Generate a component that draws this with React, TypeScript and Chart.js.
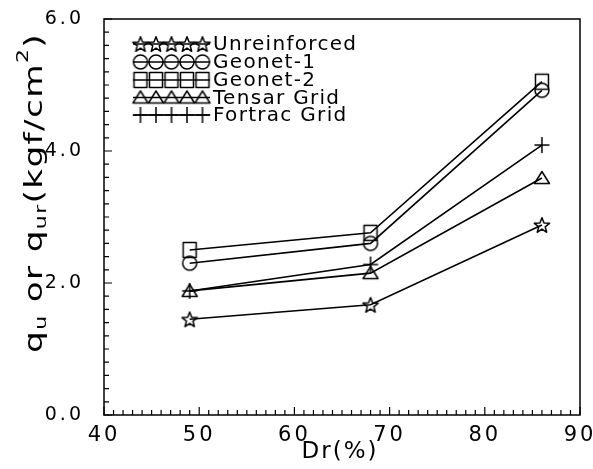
import React, { useEffect, useRef } from "react";
import { Chart, registerables } from "chart.js";

Chart.register(...registerables);

// Relative density Dr (%) at which the tests were run
const drValues = [49, 68, 86];

// Bearing capacity q_u / q_ur (kgf/cm²)
const unreinforced = [1.45, 1.67, 2.88];
const geonet1 = [2.3, 2.6, 4.92];
const geonet2 = [2.5, 2.76, 5.05];
const tensarGrid = [1.88, 2.15, 3.59];
const fortracGrid = [1.88, 2.28, 4.09];

const seriesNames = ["Unreinforced", "Geonet-1", "Geonet-2", "Tensar Grid", "Fortrac Grid"];
const seriesMarkers = ["star", "circle", "square", "triangle", "plus"] as const;

const xTickValues = [40, 50, 60, 70, 80, 90];
const yTickValues = [0, 2, 4, 6];

const FONT = "'DejaVu Sans', sans-serif";

type MarkerKind = (typeof seriesMarkers)[number];

function makeMarker(kind: MarkerKind): HTMLCanvasElement {
  const s = 20;
  const c = document.createElement("canvas");
  c.width = s;
  c.height = s;
  const g = c.getContext("2d")!;
  g.strokeStyle = "#000";
  g.lineWidth = 1.5;
  g.lineJoin = "round";
  g.translate(s / 2, s / 2);
  g.beginPath();
  switch (kind) {
    case "star":
      for (let i = 0; i < 10; i++) {
        const r = i % 2 ? 3.4 : 8;
        const a = -Math.PI / 2 + (i * Math.PI) / 5;
        const px = r * Math.cos(a);
        const py = r * Math.sin(a) + 0.8;
        if (i === 0) g.moveTo(px, py);
        else g.lineTo(px, py);
      }
      g.closePath();
      break;
    case "circle":
      g.arc(0, 0, 7, 0, Math.PI * 2);
      break;
    case "square":
      g.rect(-6.5, -7.5, 13, 15);
      break;
    case "triangle":
      g.moveTo(0, -6.5);
      g.lineTo(7.5, 5.5);
      g.lineTo(-7.5, 5.5);
      g.closePath();
      break;
    case "plus":
      g.moveTo(-7.5, 0);
      g.lineTo(7.5, 0);
      g.moveTo(0, -8);
      g.lineTo(0, 8);
      break;
  }
  g.stroke();
  return c;
}

// Wide letter spacing for the tick labels
const spacingPlugin = {
  id: "spacing",
  beforeDraw(chart: any) {
    (chart.ctx as any).letterSpacing = "3px";
  },
};

// Frame, inward tick marks, legend and axis titles
function makeDecorPlugin(markers: HTMLCanvasElement[]) {
  return {
    id: "decor",
    afterDraw(chart: any) {
      const { ctx, chartArea: a, scales } = chart;
      const xs = scales.x;
      const ys = scales.y;
      ctx.save();
      ctx.strokeStyle = "#000";
      ctx.fillStyle = "#000";
      ctx.lineWidth = 1.5;
      ctx.strokeRect(a.left, a.top, a.right - a.left, a.bottom - a.top);

      ctx.lineWidth = 1.2;
      ctx.beginPath();
      for (let v = 40; v <= 90; v += 1) {
        const px = xs.getPixelForValue(v);
        const len = v % 10 === 0 ? 8 : 5;
        ctx.moveTo(px, a.bottom);
        ctx.lineTo(px, a.bottom - len);
      }
      for (let i = 0; i <= 30; i++) {
        const v = i * 0.2;
        const py = ys.getPixelForValue(v);
        const len = i % 10 === 0 ? 8 : 5;
        ctx.moveTo(a.left, py);
        ctx.lineTo(a.left + len, py);
      }
      ctx.stroke();

      // legend
      const rowY = [44, 62, 80, 97.5, 115];
      ctx.font = `20px ${FONT}`;
      (ctx as any).letterSpacing = "1.3px";
      ctx.textBaseline = "middle";
      ctx.textAlign = "left";
      seriesNames.forEach((name, i) => {
        const y = rowY[i];
        ctx.lineWidth = 1.5;
        ctx.beginPath();
        ctx.moveTo(133, y);
        ctx.lineTo(210, y);
        ctx.stroke();
        for (let k = 0; k < 5; k++) {
          const mx = 140.5 + k * 15.5;
          const m = markers[i];
          ctx.drawImage(m, mx - m.width / 2, y - m.height / 2);
        }
        ctx.fillText(name, 213, y + 1);
      });

      // x title
      ctx.font = `23px ${FONT}`;
      (ctx as any).letterSpacing = "2px";
      ctx.textAlign = "center";
      ctx.fillText("Dr(%)", 340, 452);

      // y title with sub/superscripts, stretched along its run
      (ctx as any).letterSpacing = "1px";
      const parts: [string, number, number][] = [
        ["q", 25, 0],
        ["u", 16, 7],
        [" or ", 25, 0],
        ["q", 25, 0],
        ["ur", 16, 7],
        ["(kgf/cm", 25, 0],
        ["2", 16, -11],
        [")", 25, 0],
      ];
      let total = 0;
      const widths = parts.map(([t, sz]) => {
        ctx.font = `${sz}px ${FONT}`;
        const w = ctx.measureText(t).width;
        total += w;
        return w;
      });
      const stretch = 320 / total;
      ctx.translate(35, 193);
      ctx.rotate(-Math.PI / 2);
      ctx.scale(stretch, 1);
      ctx.textAlign = "left";
      let cx = -total / 2;
      parts.forEach(([t, sz, dy], i) => {
        ctx.font = `${sz}px ${FONT}`;
        ctx.fillText(t, cx, dy);
        cx += widths[i];
      });
      ctx.restore();
    },
  };
}

export default function App() {
  const ref = useRef<HTMLCanvasElement | null>(null);

  useEffect(() => {
    const canvas = ref.current!;
    const markers = seriesMarkers.map((k) => makeMarker(k));
    const values = [unreinforced, geonet1, geonet2, tensarGrid, fortracGrid];
    const datasets = seriesNames.map((name, i) => ({
      label: name,
      data: drValues.map((x, j) => ({ x, y: values[i][j] })),
      borderColor: "#000",
      borderWidth: 1.6,
      pointStyle: markers[i],
      pointRadius: 8,
      pointBackgroundColor: "rgba(0,0,0,0)",
      pointBorderColor: "#000",
      fill: false,
      tension: 0,
    }));

    const chart = new Chart(canvas, {
      type: "line",
      data: { datasets },
      options: {
        animation: false,
        responsive: false,
        devicePixelRatio: 1,
        layout: { padding: { top: 19, right: 13, left: 0, bottom: 0 } },
        plugins: { legend: { display: false }, tooltip: { enabled: false } },
        scales: {
          x: {
            type: "linear",
            min: 40,
            max: 90,
            afterBuildTicks: (s: any) => {
              s.ticks = xTickValues.map((v) => ({ value: v }));
            },
            afterFit: (s: any) => {
              s.height = 54;
              s.paddingLeft = 0;
              s.paddingRight = 0;
            },
            grid: { display: false },
            border: { display: false },
            ticks: {
              color: "#000",
              font: { family: FONT, size: 21 },
              padding: 0,
              maxRotation: 0,
            },
          },
          y: {
            type: "linear",
            min: 0,
            max: 6,
            afterBuildTicks: (s: any) => {
              s.ticks = yTickValues.map((v) => ({ value: v }));
            },
            afterFit: (s: any) => {
              s.width = 104;
              s.paddingTop = 0;
              s.paddingBottom = 0;
            },
            grid: { display: false },
            border: { display: false },
            ticks: {
              color: "#000",
              font: { family: FONT, size: 19 },
              padding: 12,
              callback: (v: any) => Number(v).toFixed(1),
            },
          },
        },
      },
      plugins: [spacingPlugin, makeDecorPlugin(markers)],
    });

    return () => chart.destroy();
  }, []);

  return (
    <div style={{ position: "fixed", left: 0, top: 0, width: 593, height: 469, background: "#fff" }}>
      <canvas ref={ref} width={593} height={469} style={{ width: 593, height: 469 }} />
    </div>
  );
}
